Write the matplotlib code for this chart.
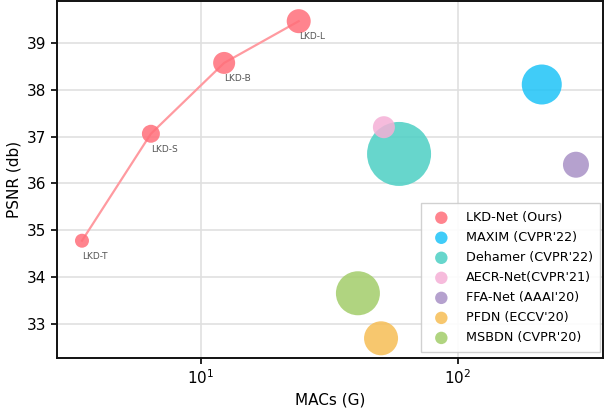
import matplotlib
matplotlib.use("Agg")
import matplotlib.pyplot as plt
import numpy as np

lkd_names = ["LKD-T", "LKD-S", "LKD-B", "LKD-L"]
lkd_macs = [3.44, 6.38, 12.3, 24.0]
lkd_psnr = [34.78, 37.06, 38.57, 39.46]
lkd_radius = [7, 9, 11, 12]

methods = ["MAXIM (CVPR'22)", "Dehamer (CVPR'22)", "AECR-Net(CVPR'21)",
           "FFA-Net (AAAI'20)", "PFDN (ECCV'20)", "MSBDN (CVPR'20)"]
method_macs = [212, 59, 51.5, 288, 50.2, 40.8]
method_psnr = [38.11, 36.63, 37.20, 36.40, 32.70, 33.66]
method_radius = [20, 32, 11, 13, 17, 22]
colors = ["#1ec3f7", "#4ccfc4", "#f5b0d6", "#a891c6", "#f6bd55", "#a3cd6a"]
lkd_color = "#ff6f7a"

fig = plt.figure(figsize=(6.08, 4.12), dpi=100)
ax = fig.add_axes([57/608, 1-358/412, (603-57)/608, (358-1)/412])

def s_from_r(r):
    return (2 * r * 0.72) ** 2

ax.plot(lkd_macs, lkd_psnr, color="#ff9aa0", lw=1.6, zorder=2)
ax.scatter(lkd_macs, lkd_psnr, s=[s_from_r(r) for r in lkd_radius],
           color=lkd_color, alpha=0.85, edgecolors="none", zorder=3,
           label="LKD-Net (Ours)")
for n, x, y in zip(lkd_names, lkd_macs, lkd_psnr):
    ax.annotate(n, (x, y), xytext=(0, -13), textcoords="offset points",
                fontsize=6.5, color="#555555", zorder=4)

for m, x, y, r, c in zip(methods, method_macs, method_psnr, method_radius, colors):
    ax.scatter([x], [y], s=s_from_r(r), color=c, alpha=0.85,
               edgecolors="none", zorder=3, label=m)

ax.set_xscale("log")
ax.set_xlim(2.75, 367)
ax.set_ylim(32.28, 39.89)
ax.set_yticks([33, 34, 35, 36, 37, 38, 39])
ax.grid(True, which="major", color="#e0e0e0", lw=1.2, zorder=0)
ax.set_axisbelow(True)
ax.tick_params(labelsize=11, width=1.2, length=4)
ax.tick_params(which="minor", length=0)
for sp in ax.spines.values():
    sp.set_linewidth(1.4)
    sp.set_color("#111111")
ax.set_xlabel("MACs (G)", fontsize=11)
ax.set_ylabel("PSNR (db)", fontsize=11)

leg = ax.legend(loc="lower right", fontsize=9.2, markerscale=1, framealpha=0.9,
                handletextpad=0.9, borderpad=0.6, labelspacing=0.55,
                edgecolor="#cccccc", fancybox=False, borderaxespad=0,
                bbox_to_anchor=(0.995, 0.017))
for h in leg.legend_handles:
    h.set_sizes([80])

fig.savefig("out.png", dpi=100)
